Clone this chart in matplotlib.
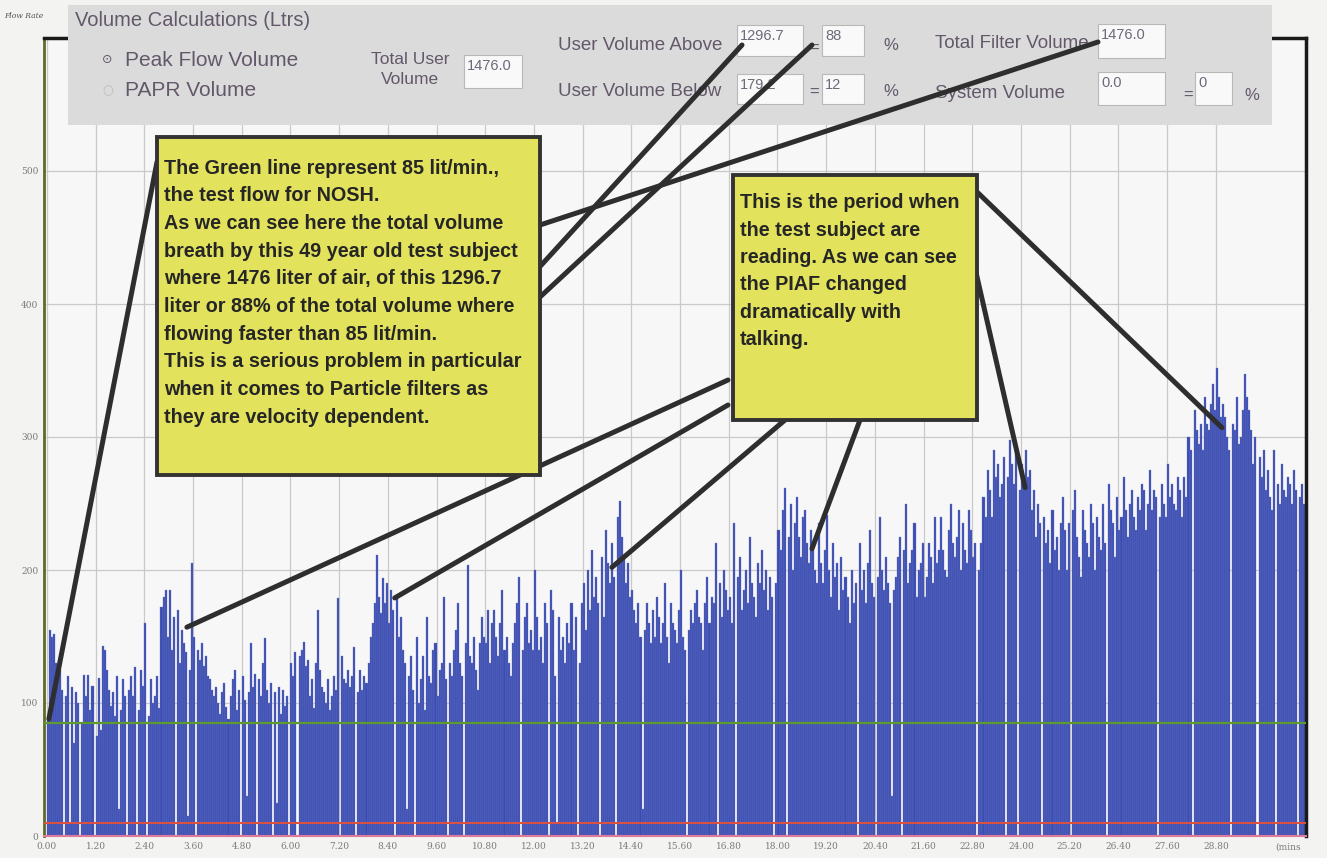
import matplotlib
matplotlib.use("Agg")
import matplotlib.pyplot as plt
from matplotlib.patches import Rectangle, ConnectionPatch
from matplotlib.lines import Line2D
import numpy as np

# ---------------------------------------------------------------- data
# Peak flow per breath (lit/min); one row per minute, samples 0.05 min apart.
# Zeros are pauses between breaths.
flow_rows = [
    [88, 155, 150, 152, 130, 120, 125, 110, 0, 105, 120, 10, 112, 70, 108, 100, 0, 85, 121, 105],
    [121, 95, 113, 0, 75, 119, 80, 143, 140, 125, 110, 98, 108, 90, 120, 20, 95, 118, 105, 0],
    [110, 120, 105, 127, 0, 95, 125, 113, 160, 0, 90, 118, 100, 105, 120, 96, 172, 180, 185, 150],
    [185, 140, 165, 0, 170, 130, 155, 145, 138, 15, 125, 205, 150, 0, 140, 132, 145, 128, 135, 120],
    [118, 110, 105, 112, 100, 92, 108, 115, 97, 88, 105, 118, 125, 95, 110, 0, 120, 102, 30, 108],
    [145, 112, 122, 0, 118, 105, 130, 149, 110, 100, 115, 0, 108, 25, 112, 92, 110, 98, 105, 0],
    [130, 120, 138, 0, 135, 140, 146, 128, 132, 105, 118, 96, 130, 170, 125, 112, 108, 100, 118, 95],
    [105, 120, 110, 179, 0, 135, 118, 115, 125, 112, 120, 142, 0, 108, 125, 110, 120, 115, 130, 150],
    [160, 175, 211, 180, 168, 194, 175, 190, 160, 185, 170, 0, 180, 150, 165, 140, 130, 20, 120, 135],
    [110, 0, 150, 100, 118, 135, 95, 165, 120, 115, 140, 145, 105, 125, 130, 180, 118, 0, 130, 120],
    [140, 155, 175, 130, 120, 0, 145, 204, 135, 130, 150, 125, 110, 145, 165, 150, 145, 170, 130, 160],
    [170, 150, 135, 160, 185, 140, 150, 130, 120, 145, 160, 175, 195, 0, 140, 165, 175, 145, 155, 140],
    [200, 165, 140, 150, 130, 175, 160, 0, 185, 170, 120, 10, 165, 140, 150, 130, 160, 145, 175, 140],
    [165, 0, 130, 175, 190, 155, 200, 170, 215, 180, 195, 175, 0, 210, 165, 230, 205, 190, 220, 195],
    [0, 240, 252, 225, 210, 190, 205, 180, 185, 170, 160, 175, 150, 20, 155, 175, 160, 145, 170, 150],
    [180, 165, 145, 160, 190, 150, 130, 175, 160, 155, 145, 170, 200, 150, 140, 0, 155, 170, 160, 175],
    [185, 165, 160, 140, 175, 195, 160, 180, 175, 220, 0, 190, 165, 200, 185, 170, 180, 160, 235, 0],
    [195, 210, 170, 185, 200, 175, 225, 190, 180, 165, 205, 190, 215, 185, 200, 170, 195, 180, 0, 190],
    [230, 215, 245, 262, 0, 225, 250, 200, 235, 255, 225, 210, 240, 245, 220, 205, 230, 215, 200, 190],
    [235, 205, 190, 215, 241, 200, 180, 220, 195, 205, 170, 210, 185, 195, 180, 160, 200, 175, 190, 0],
    [220, 185, 200, 175, 205, 230, 190, 180, 0, 195, 240, 200, 185, 210, 190, 175, 30, 185, 195, 210],
    [225, 0, 215, 250, 190, 205, 215, 235, 180, 200, 205, 220, 180, 195, 220, 210, 190, 240, 205, 215],
    [240, 215, 200, 195, 230, 250, 220, 210, 225, 245, 200, 235, 215, 205, 245, 230, 210, 220, 0, 200],
    [220, 255, 240, 275, 260, 240, 290, 270, 280, 255, 265, 285, 0, 270, 298, 280, 265, 290, 0, 260],
    [280, 262, 290, 270, 275, 245, 260, 225, 250, 235, 0, 240, 220, 230, 205, 245, 215, 225, 200, 235],
    [255, 230, 200, 235, 0, 245, 260, 225, 210, 195, 245, 230, 220, 210, 250, 235, 200, 240, 225, 215],
    [250, 220, 0, 265, 245, 235, 210, 255, 230, 240, 270, 245, 225, 250, 260, 240, 230, 255, 245, 265],
    [260, 230, 250, 275, 245, 260, 255, 0, 240, 265, 250, 240, 280, 255, 265, 250, 245, 270, 260, 240],
    [270, 255, 300, 290, 0, 320, 305, 295, 310, 290, 330, 310, 305, 325, 340, 320, 352, 330, 315, 325],
    [315, 300, 290, 0, 310, 305, 330, 295, 300, 320, 347, 330, 320, 305, 280, 300, 0, 285, 270, 290],
    [260, 275, 255, 245, 290, 0, 265, 250, 280, 260, 255, 270, 265, 250, 275, 260, 0, 255, 265, 250],
]
sample_step = 0.05         # minutes between bars
test_flow = 85             # NIOSH test flow (green line)
low_flow = 10              # lower reference (red line)

x_tick_labels = ["0.00", "1.20", "2.40", "3.60", "4.80", "6.00", "7.20", "8.40",
                 "9.60", "10.80", "12.00", "13.20", "14.40", "15.60", "16.80",
                 "18.00", "19.20", "20.40", "21.60", "22.80", "24.00", "25.20",
                 "26.40", "27.60", "28.80"]
y_ticks = [0, 100, 200, 300, 400, 500]

# volume summary panel
total_user_volume = "1476.0"
volume_above = "1296.7"
volume_above_pct = "88"
volume_below = "179.2"
volume_below_pct = "12"
total_filter_volume = "1476.0"
system_volume = "0.0"
system_volume_pct = "0"

note_left = [
    "The Green line represent 85 lit/min.,",
    "the test flow for NOSH.",
    "As we can see here the total volume",
    "breath by this 49 year old test subject",
    "where 1476 liter of air, of this 1296.7",
    "liter or 88% of the total volume where",
    "flowing faster than 85 lit/min.",
    "This is a serious problem in particular",
    "when it comes to Particle filters as",
    "they are velocity dependent.",
]
note_right = [
    "This is the period when",
    "the test subject are",
    "reading. As we can see",
    "the PIAF changed",
    "dramatically with",
    "talking.",
]

# points on the trace that the callouts refer to (minutes, lit/min)
left_note_targets = [(0.05, 88), (3.45, 157), (8.57, 179)]
right_note_targets = [(13.92, 202), (18.85, 216), (24.1, 262), (28.95, 307)]

flow = [v for row in flow_rows for v in row]
times = np.arange(len(flow)) * sample_step + sample_step / 2

# ---------------------------------------------------------------- layout helpers
W, H = 1327, 858


def fp(x, y):
    """pixel position -> figure fraction"""
    return (x / W, 1 - y / H)


fig = plt.figure(figsize=(W / 100, H / 100), dpi=100, facecolor="#f3f3f1")
ax = fig.add_axes([44 / W, 1 - 836 / H, (1306 - 44) / W, (836 - 38) / H])
ax.set_facecolor("#f7f7f7")

# ---------------------------------------------------------------- chart
ax.bar(times, flow, width=sample_step, color="#3b4cb0",
       edgecolor="#6d7dcc", linewidth=0.25, zorder=2)
ax.axhline(test_flow, color="#5e9a2c", lw=1.6, zorder=3)
ax.axhline(low_flow, color="#e0503c", lw=1.4, zorder=3)

ax.set_xlim(-0.07, 31.02)
ax.set_ylim(0, 600)
ax.set_xticks([i * 1.2 for i in range(len(x_tick_labels))])
ax.set_xticklabels(x_tick_labels)
ax.set_yticks(y_ticks)
ax.tick_params(length=0, labelsize=6.5, labelcolor="#7a7a7a", pad=4)
for lab in ax.get_xticklabels() + ax.get_yticklabels():
    lab.set_family("DejaVu Serif")
ax.grid(True, color="#c9c9c9", lw=0.9, zorder=0)
ax.set_axisbelow(True)

ax.spines["left"].set_color("#5f6a2a")
ax.spines["left"].set_linewidth(2.0)
ax.spines["bottom"].set_color("#e07a9a")
ax.spines["bottom"].set_linewidth(1.5)
ax.spines["top"].set_color("#1a1a1a")
ax.spines["top"].set_linewidth(2.5)
ax.spines["right"].set_color("#1a1a1a")
ax.spines["right"].set_linewidth(2.5)

fig.text(*fp(1275, 847), "(mins", fontsize=6.5, color="#7a7a7a",
         family="DejaVu Serif", va="center")
fig.text(*fp(4, 16), "Flow Rate", fontsize=5.5, color="#555555",
         family="DejaVu Serif", style="italic", va="center")

# ---------------------------------------------------------------- summary panel
panel_color = "#dcdbdb"
txt_color = "#62586a"
fig.add_artist(Rectangle(fp(68, 125), (1272 - 68) / W, 120 / H,
                         transform=fig.transFigure, facecolor=panel_color,
                         edgecolor="none", zorder=5))


def field(x0, y0, x1, y1, value):
    fig.add_artist(Rectangle(fp(x0, y1), (x1 - x0) / W, (y1 - y0) / H,
                             transform=fig.transFigure, facecolor="#f9f9f9",
                             edgecolor="#b8b8b8", lw=0.8, zorder=5.5))
    fig.text(*fp(x0 + 3, y0 + 4), value, fontsize=10.5, color="#6a6a7a",
             family="Liberation Sans", va="top", zorder=5.6)


ptxt = dict(color=txt_color, family=["Liberation Sans", "DejaVu Sans"],
            va="center", zorder=5.6)
fig.text(*fp(75, 20), "Volume Calculations (Ltrs)", fontsize=14.5, **ptxt)
fig.text(*fp(102, 60), "\u2299", fontsize=9, **ptxt)
fig.text(*fp(125, 60), "Peak Flow Volume", fontsize=15, **ptxt)
fig.text(*fp(102, 91), "\u25cb", fontsize=9, color="#bbbbbb",
         family="DejaVu Sans", va="center", zorder=5.6)
fig.text(*fp(125, 91), "PAPR Volume", fontsize=15, **ptxt)
fig.text(*fp(410, 60), "Total User", fontsize=12.5, ha="center", **ptxt)
fig.text(*fp(410, 80), "Volume", fontsize=12.5, ha="center", **ptxt)
field(464, 55, 522, 88, total_user_volume)

fig.text(*fp(558, 46), "User Volume Above", fontsize=13.5, **ptxt)
field(737, 25, 803, 56, volume_above)
fig.text(*fp(809, 48), "=", fontsize=12, **ptxt)
field(822, 25, 864, 56, volume_above_pct)
fig.text(*fp(883, 46), "%", fontsize=12, **ptxt)

fig.text(*fp(558, 92), "User Volume Below", fontsize=13.5, **ptxt)
field(737, 74, 803, 104, volume_below)
fig.text(*fp(809, 92), "=", fontsize=12, **ptxt)
field(822, 74, 864, 104, volume_below_pct)
fig.text(*fp(883, 92), "%", fontsize=12, **ptxt)

fig.text(*fp(935, 44), "Total Filter Volume", fontsize=13.5, **ptxt)
field(1098, 24, 1165, 58, total_filter_volume)
fig.text(*fp(935, 93), "System Volume", fontsize=13.5, **ptxt)
field(1098, 72, 1165, 105, system_volume)
fig.text(*fp(1183, 95), "=", fontsize=12, **ptxt)
field(1195, 72, 1232, 105, system_volume_pct)
fig.text(*fp(1244, 95), "%", fontsize=12, **ptxt)

# ---------------------------------------------------------------- callouts
line_color = "#2e2e2e"
line_width = 3.6


def pointer_to_data(start_px, target):
    con = ConnectionPatch(xyA=fp(*start_px), coordsA=fig.transFigure,
                          xyB=target, coordsB=ax.transData, color=line_color,
                          lw=line_width, zorder=6, clip_on=False,
                          capstyle="round")
    fig.add_artist(con)


def pointer_to_panel(start_px, end_px):
    (x0, y0), (x1, y1) = fp(*start_px), fp(*end_px)
    fig.add_artist(Line2D([x0, x1], [y0, y1], transform=fig.transFigure,
                          color=line_color, lw=line_width, zorder=6,
                          solid_capstyle="round"))


pointer_to_data((157, 162), left_note_targets[0])
pointer_to_data((728, 380), left_note_targets[1])
pointer_to_data((728, 405), left_note_targets[2])
pointer_to_data((785, 420), right_note_targets[0])
pointer_to_data((860, 420), right_note_targets[1])
pointer_to_data((975, 268), right_note_targets[2])
pointer_to_data((975, 190), right_note_targets[3])

pointer_to_panel((540, 225), (1098, 42))
pointer_to_panel((535, 272), (742, 45))
pointer_to_panel((540, 297), (812, 45))

box_face = "#e2e25c"
box_edge = "#333333"
fig.add_artist(Rectangle(fp(157, 475), (540 - 157) / W, (475 - 137) / H,
                         transform=fig.transFigure, facecolor=box_face,
                         edgecolor=box_edge, lw=2.8, zorder=7))
fig.add_artist(Rectangle(fp(733, 420), (977 - 733) / W, (420 - 175) / H,
                         transform=fig.transFigure, facecolor=box_face,
                         edgecolor=box_edge, lw=2.8, zorder=7))

note_kw = dict(fontsize=14.2, fontweight="bold", color="#262626",
               family="Liberation Sans", va="center", zorder=8)
for i, line in enumerate(note_left):
    fig.text(*fp(164, 168 + i * 27.7), line, **note_kw)
for i, line in enumerate(note_right):
    fig.text(*fp(740, 203 + i * 27.3), line, **note_kw)

fig.savefig("out.png", dpi=100, facecolor=fig.get_facecolor())
